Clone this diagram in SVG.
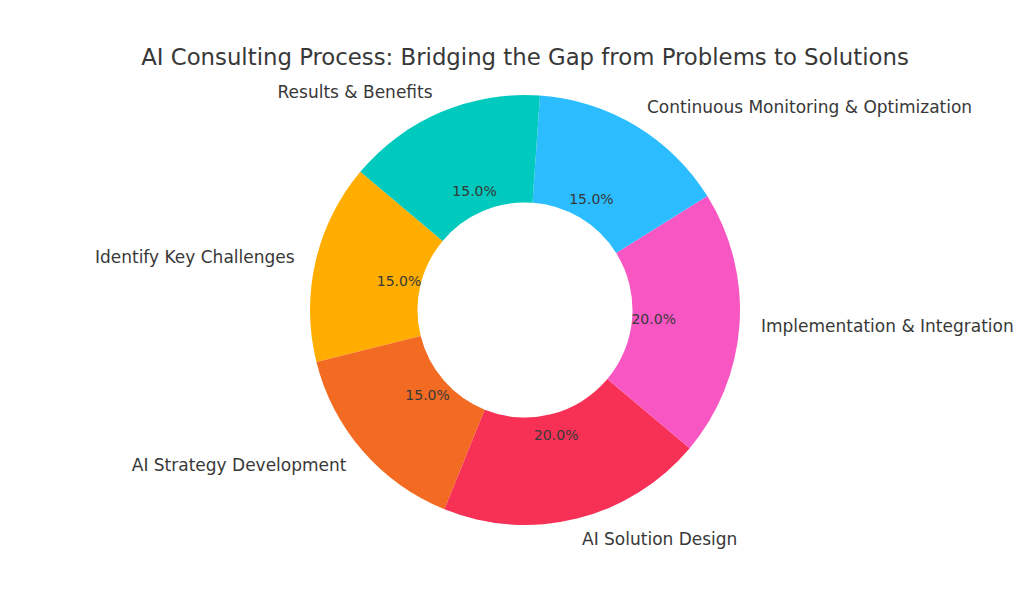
<svg xmlns="http://www.w3.org/2000/svg" width="1024" height="614" viewBox="0 0 1024 614">
<style>
text{font-family:"DejaVu Sans","Liberation Sans",sans-serif;fill:#383838}
.title{font-size:22.8px;text-anchor:middle}
.lbl{font-size:17px}
.pct{font-size:14px;text-anchor:middle}
.e{text-anchor:end}
.s{text-anchor:start}
</style>
<rect width="1024" height="614" fill="#ffffff"/>
<text class="title" x="525" y="65">AI Consulting Process: Bridging the Gap from Problems to Solutions</text>
<g id="identify">
<path d="M360.30,171.80 A215,215 0 0 0 316.39,362.01 L420.69,336.01 A107.5,107.5 0 0 1 442.65,240.90 Z" fill="#FFAE00"/>
<text class="lbl e" x="294.6" y="262.5">Identify Key Challenges</text>
<text class="pct" x="399" y="285.7">15.0%</text>
</g>
<g id="strategy">
<path d="M316.39,362.01 A215,215 0 0 0 444.46,509.34 L484.73,409.67 A107.5,107.5 0 0 1 420.69,336.01 Z" fill="#F36B22"/>
<text class="lbl e" x="346.5" y="471">AI Strategy Development</text>
<text class="pct" x="427.6" y="399.7">15.0%</text>
</g>
<g id="solution">
<path d="M444.46,509.34 A215,215 0 0 0 689.70,448.20 L607.35,379.10 A107.5,107.5 0 0 1 484.73,409.67 Z" fill="#F73156"/>
<text class="lbl s" x="582" y="545">AI Solution Design</text>
<text class="pct" x="556.2" y="440.2">20.0%</text>
</g>
<g id="implementation">
<path d="M689.70,448.20 A215,215 0 0 0 707.33,196.07 L616.17,253.03 A107.5,107.5 0 0 1 607.35,379.10 Z" fill="#F857C3"/>
<text class="lbl s" x="761" y="332">Implementation &amp; Integration</text>
<text class="pct" x="653.7" y="323.7">20.0%</text>
</g>
<g id="monitoring">
<path d="M707.33,196.07 A215,215 0 0 0 540.00,95.52 L532.50,202.76 A107.5,107.5 0 0 1 616.17,253.03 Z" fill="#2BBDFF"/>
<text class="lbl s" x="647" y="112.5">Continuous Monitoring &amp; Optimization</text>
<text class="pct" x="591.4" y="204.2">15.0%</text>
</g>
<g id="results">
<path d="M540.00,95.52 A215,215 0 0 0 360.30,171.80 L442.65,240.90 A107.5,107.5 0 0 1 532.50,202.76 Z" fill="#00C9BE"/>
<text class="lbl e" x="432.6" y="97.5">Results &amp; Benefits</text>
<text class="pct" x="474.6" y="196.2">15.0%</text>
</g>
<g id="connectors"/>
</svg>
